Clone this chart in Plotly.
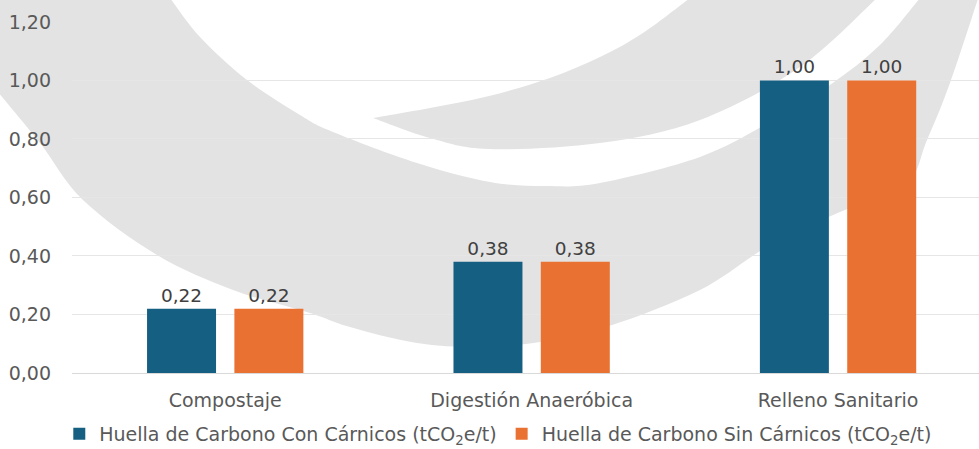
import plotly.graph_objects as go

# Data
categories = ["Compostaje", "Digestión Anaeróbica", "Relleno Sanitario"]
con_carnicos = [0.22, 0.38, 1.00]
sin_carnicos = [0.22, 0.38, 1.00]
series_names = [
    "Huella de Carbono Con Cárnicos (tCO<sub>2</sub>e/t)",
    "Huella de Carbono Sin Cárnicos (tCO<sub>2</sub>e/t)",
]
colors = ["#156082", "#E97132"]
y_ticks = [0.0, 0.2, 0.4, 0.6, 0.8, 1.0, 1.2]

# Canvas geometry
W, H = 979, 449
ML, MR, MT, MB = 72, 0, 21, 76
PW, PH = W - ML - MR, H - MT - MB
FONT = "DejaVu Sans"
FS = 19
FS_LABEL = 18.5


def to_paper(px, py):
    return (px - ML) / PW, (H - MB - py) / PH


def smooth_path(points, closed=True):
    """Catmull-Rom spline through pixel points, as an SVG path in paper units."""
    pts = [to_paper(x, y) for x, y in points]
    n = len(pts)
    d = f"M{pts[0][0]:.4f},{pts[0][1]:.4f}"
    for i in range(n - 1):
        p0 = pts[i - 1] if i > 0 else pts[i]
        p1, p2 = pts[i], pts[i + 1]
        p3 = pts[i + 2] if i + 2 < n else pts[i + 1]
        c1 = (p1[0] + (p2[0] - p0[0]) / 6, p1[1] + (p2[1] - p0[1]) / 6)
        c2 = (p2[0] - (p3[0] - p1[0]) / 6, p2[1] - (p3[1] - p1[1]) / 6)
        d += f" C{c1[0]:.4f},{c1[1]:.4f} {c2[0]:.4f},{c2[1]:.4f} {p2[0]:.4f},{p2[1]:.4f}"
    if closed:
        d += " Z"
    return d


# Background logo: a wide crescent plus a tapered swoosh
crescent_inner = [(170, -2), (200, 37), (247, 80), (300, 115), (333, 132),
                  (417, 163), (490, 182), (545, 186), (600, 183), (700, 157),
                  (770, 122), (830, 85), (880, 45), (920, -2)]
crescent_outer = [(979, -2), (977, 2), (950, 83), (927, 140), (905, 186),
                  (840, 212), (770, 245), (700, 290), (609, 326), (540, 342),
                  (480, 347), (417, 343), (350, 327), (310, 313), (233, 290),
                  (157, 255), (83, 200), (40, 143), (-2, 92)]
crescent = smooth_path(crescent_inner).replace(" Z", "")
crescent += " " + smooth_path(crescent_outer).replace("M", "L", 1).replace(" Z", "")
crescent += " L" + "{:.4f},{:.4f}".format(*to_paper(-2, -2)) + " Z"

swoosh_upper = [(373, 118), (430, 108), (489, 96), (550, 78), (600, 57),
                (643, 33), (690, -2)]
swoosh_lower = [(877, -2), (800, 67), (700, 120), (600, 143), (489, 149),
                (430, 138), (373, 118)]
swoosh = smooth_path(swoosh_upper).replace(" Z", "")
swoosh += " " + smooth_path(swoosh_lower).replace("M", "L", 1)

fig = go.Figure()
for name, vals, col in zip(series_names, [con_carnicos, sin_carnicos], colors):
    fig.add_trace(go.Bar(
        x=categories, y=vals, name=name,
        marker=dict(color=col, line=dict(width=0)),
        texttemplate="%{y:.2f}", textposition="outside",
        textfont=dict(family=FONT, size=FS_LABEL, color="#404040"),
        cliponaxis=False,
    ))

wm = "rgb(227,227,227)"
fig.update_layout(
    width=W, height=H,
    margin=dict(l=ML, r=MR, t=MT, b=MB, autoexpand=False),
    paper_bgcolor="white",
    plot_bgcolor="rgba(0,0,0,0)",
    separators=",.",
    font=dict(family=FONT, size=FS, color="#595959"),
    barmode="group", bargap=0.43, bargroupgap=0.21,
    showlegend=True,
    legend=dict(orientation="h", x=0.47, xanchor="center",
                yref="container", y=(H - 434) / H, yanchor="middle",
                font=dict(family=FONT, size=FS, color="#595959"),
                itemwidth=30, tracegroupgap=0,
                traceorder="normal"),
    shapes=[
        dict(type="path", path=crescent, xref="paper", yref="paper",
             fillcolor=wm, line=dict(width=0), layer="below"),
        dict(type="path", path=swoosh, xref="paper", yref="paper",
             fillcolor=wm, line=dict(width=0), layer="below"),
    ],
)
fig.update_xaxes(range=[-0.5, 2.46], showgrid=False, showline=False,
                 ticks="", ticklabelstandoff=14,
                 tickfont=dict(family=FONT, size=FS, color="#595959"))
fig.update_yaxes(range=[0, 1.203], tickvals=y_ticks, tickformat=".2f",
                 showgrid=True, gridcolor="#e6e6e6", gridwidth=1,
                 zeroline=True, zerolinecolor="#d9d9d9", zerolinewidth=1,
                 showline=False, ticks="", ticklabelstandoff=20,
                 tickfont=dict(family=FONT, size=FS, color="#595959"))

fig.write_html("out.html")
